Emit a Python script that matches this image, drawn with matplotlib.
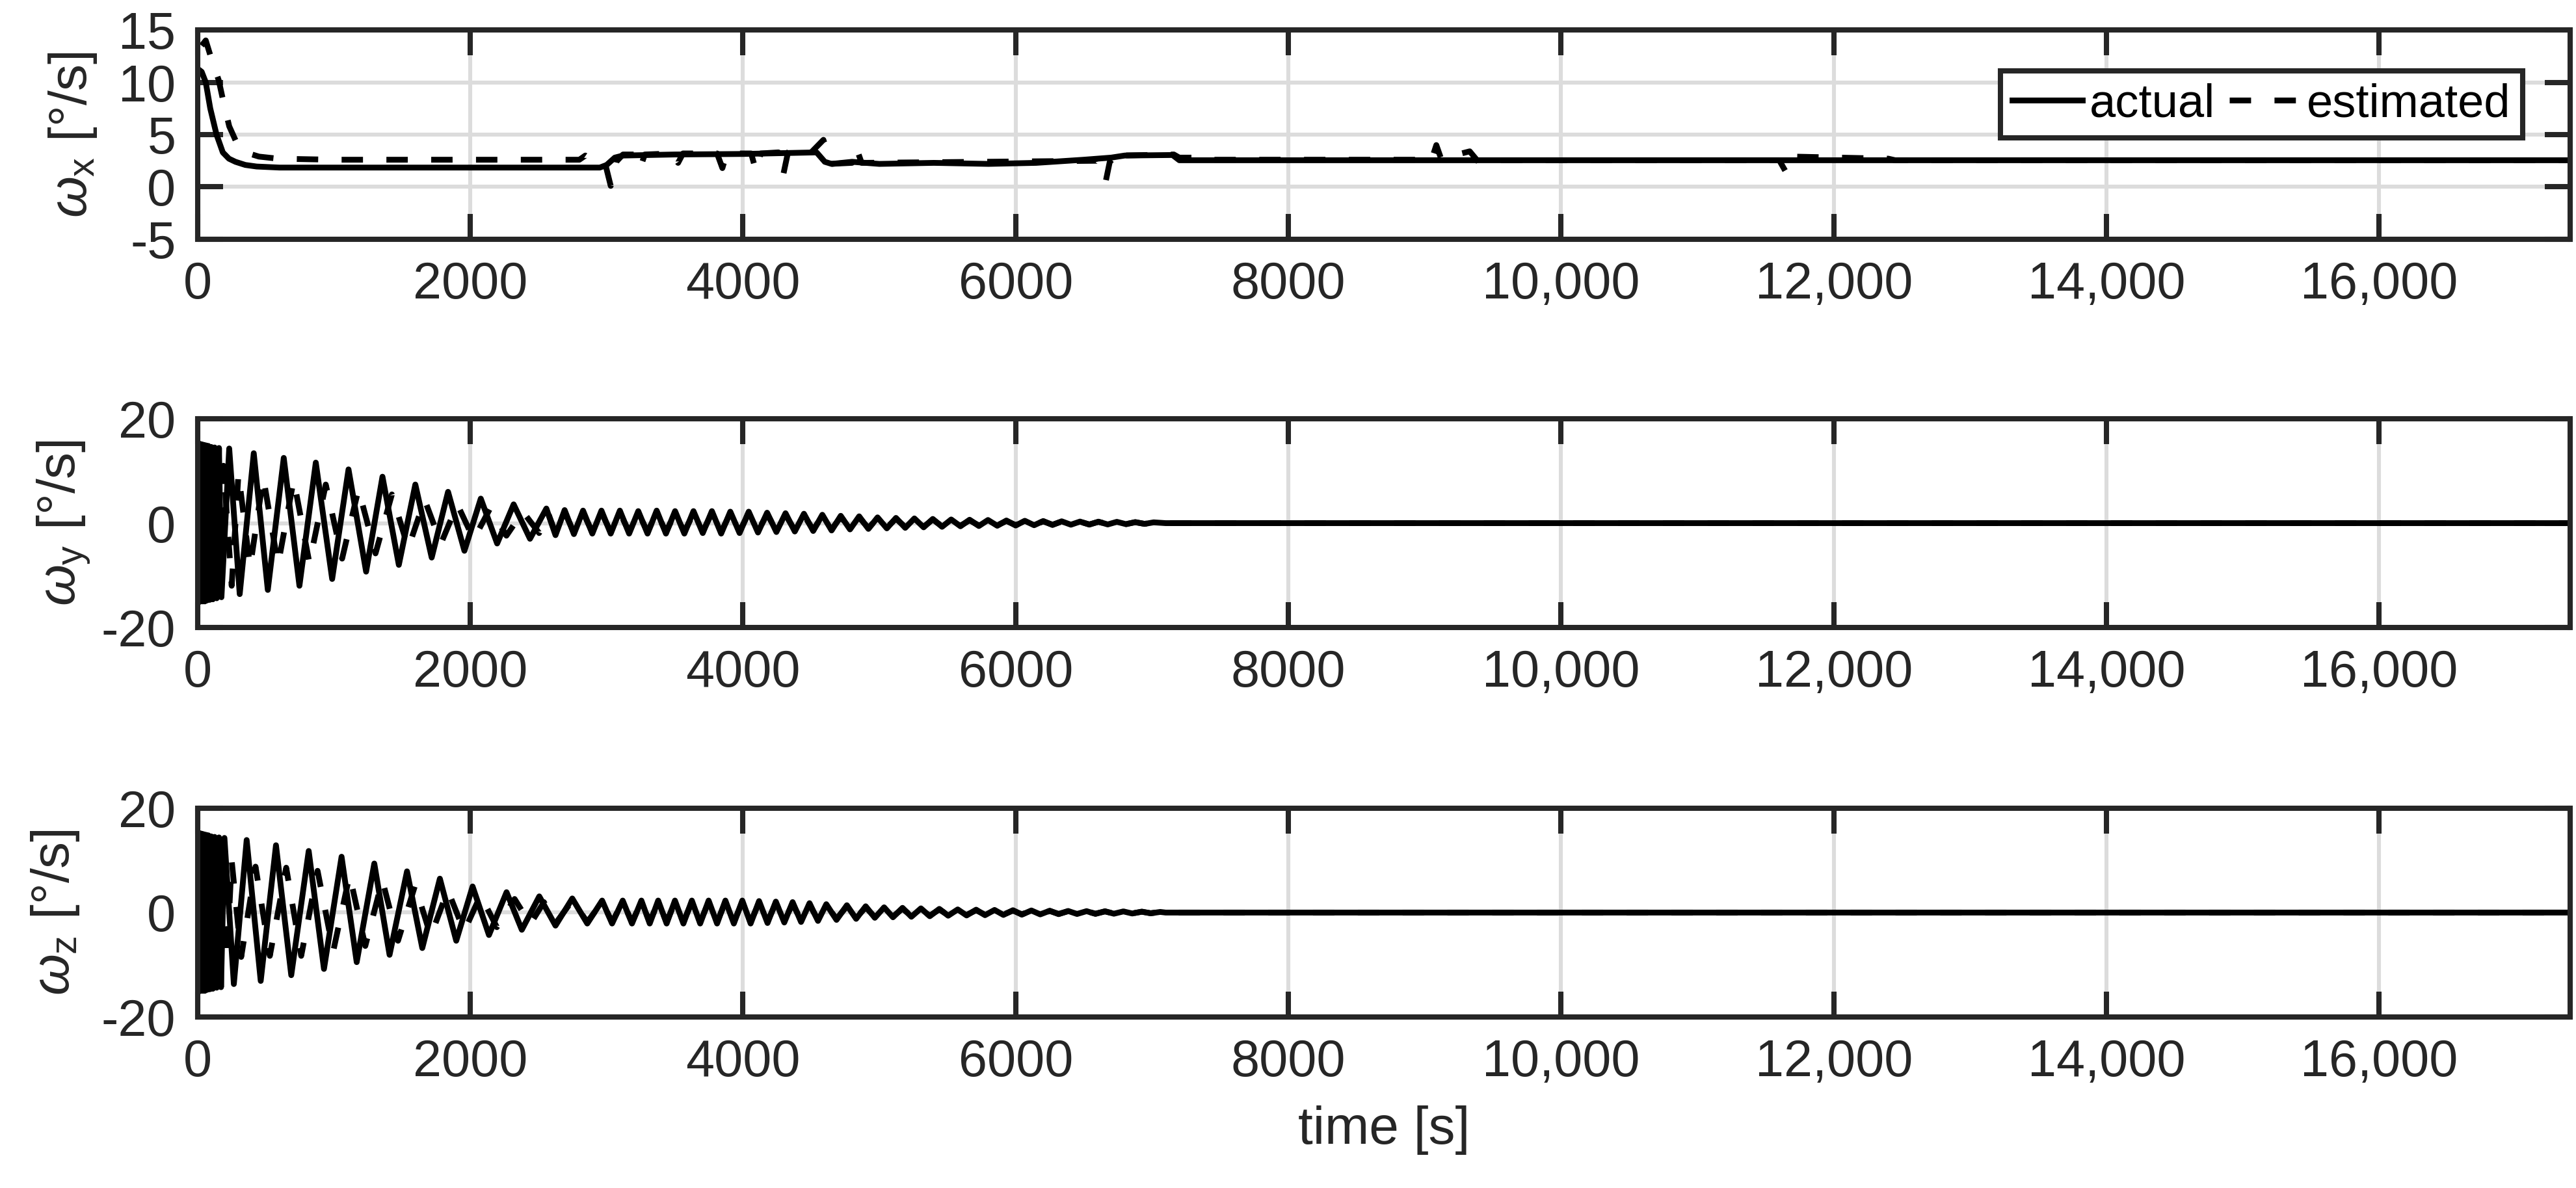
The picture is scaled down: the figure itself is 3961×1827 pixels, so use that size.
import numpy as np
import matplotlib
matplotlib.use("Agg")
import matplotlib.pyplot as plt
from matplotlib.ticker import FuncFormatter

plt.rcParams['font.family'] = ['Liberation Sans', 'DejaVu Sans']
plt.rcParams['mathtext.fontset'] = 'custom'
plt.rcParams['mathtext.rm'] = 'Liberation Sans'
plt.rcParams['mathtext.it'] = 'Liberation Sans:italic'
plt.rcParams['axes.unicode_minus'] = False

# ---- omega_x ----
t_x_act = [0, 30, 60, 93, 139, 185, 230, 278, 350, 433, 600, 2950, 3000, 3060, 3120, 3500, 4000,
           4540, 4600, 4650, 4800, 5000, 5400, 5800, 6150, 6500, 6700, 6800, 7150, 7200, 17400]
wx_act = [11.3, 11.0, 10.0, 7.5, 5.0, 3.3, 2.7, 2.4, 2.1, 1.95, 1.85, 1.85, 2.1, 2.8, 3.0, 3.1, 3.15,
          3.3, 2.4, 2.2, 2.4, 2.2, 2.3, 2.2, 2.3, 2.6, 2.8, 3.0, 3.05, 2.55, 2.55]

t_x_est = [30, 60, 100, 155, 190, 232, 294, 350, 450, 590, 1000, 2800, 2844, 2900, 2990, 3030, 3070,
           3120, 3210, 3246, 3280, 3480, 3524, 3560, 3810, 3849, 3880, 4060, 4096, 4130, 4260, 4296,
           4330, 4436, 4500, 4590, 4640, 4800, 4830, 4870, 6600, 6660, 6690, 6720, 6760, 7160, 7200,
           7320, 7360, 9050, 9085, 9120, 9330, 9400, 9450, 11600, 11650, 11700, 12400, 12450, 17400]
wx_est = [13.5, 14.0, 12.3, 10.2, 8.1, 5.8, 4.0, 3.3, 2.9, 2.7, 2.6, 2.6, 3.0, 2.5, 2.2, 0.1, 2.4,
          3.1, 3.1, 1.8, 3.1, 3.2, 2.3, 3.2, 3.2, 1.8, 3.2, 3.2, 1.5, 3.2, 3.3, 1.2,
          3.3, 3.7, 3.3, 4.5, 2.2, 2.3, 3.8, 2.3, 2.5, 0.5, 2.4, 1.9, 3.0, 3.1, 2.8,
          2.8, 2.6, 2.6, 4.0, 2.7, 3.4, 2.3, 2.55, 2.55, 1.4, 2.9, 2.7, 2.55, 2.55]

# ---- omega_y : turning points ----
t_y_act = [0, 6, 12, 18, 24, 31, 38, 45, 53, 61, 70, 79, 89, 100, 112, 125, 140, 157, 175, 232,
           309, 412, 515, 632, 747, 867, 987, 1107, 1236, 1356, 1476, 1597, 1717, 1837, 1957, 2077,
           2197, 2318, 2438, 2558]
wy_act = [0, 15.2, -15.1, 15.2, -15.0, 15.1, -15.0, 15.0, -15.0, 14.9, -14.8, 14.8, -14.7, 14.6,
          -14.6, 14.5, -14.4, 14.4, -14.2, 14.3, -13.6, 13.4, -12.8, 12.5, -12.0, 11.6, -10.7, 10.3,
          -9.3, 8.9, -8.0, 7.4, -6.6, 6.0, -5.3, 4.7, -3.9, 3.6, -3.0, 2.8]

t_y_est = [0, 8, 16, 24, 33, 42, 52, 62, 73, 85, 98, 112, 127, 143, 160, 190, 250, 300, 385, 482,
           590, 705, 820, 940, 1060, 1180, 1305, 1425, 1545, 1665, 1785, 1905, 2025, 2145, 2265,
           2385, 2505, 2570]
wy_est = [0, 13, -13, 13, -13, 13, -13, 13, -12.5, 12.5, -12.5, 12, -12, 12, -12, 11, -12, 9.5,
          -8.5, 8.8, -8.0, 8.3, -7.6, 7.4, -6.8, 6.5, -5.8, 5.5, -4.8, 4.5, -3.9, 3.6, -3.1, 2.8,
          -2.4, 2.2, -1.9, 2.0]

t_y_late = [2625, 2692, 2760, 2827, 2895, 2962, 3030, 3097, 3165, 3232,
            3300, 3367, 3435, 3502, 3570, 3637, 3705, 3772, 3840, 3907,
            3975, 4042, 4110, 4177, 4245, 4312, 4380, 4447, 4515, 4582,
            4650, 4717, 4785, 4852, 4920, 4987, 5055, 5122, 5190, 5257,
            5325, 5392, 5460, 5527, 5595, 5662, 5730, 5797, 5865, 5932,
            6000, 6067, 6135, 6202, 6270, 6337, 6405, 6472, 6540, 6607,
            6675, 6742, 6810, 6877, 6945, 7012]
wy_act_late = [-2.3, 2.5, -2.1, 2.4, -2.0, 2.4, -2.0, 2.4, -2.0, 2.3,
               -2.0, 2.4, -2.0, 2.3, -2.0, 2.3, -1.9, 2.3, -2.0, 2.2,
               -1.9, 2.2, -1.8, 2.0, -1.7, 1.9, -1.6, 1.8, -1.5, 1.6,
               -1.4, 1.4, -1.2, 1.3, -1.1, 1.1, -1.0, 1.0, -0.9, 0.9,
               -0.8, 0.8, -0.7, 0.7, -0.6, 0.65, -0.55, 0.6, -0.5, 0.5,
               -0.45, 0.45, -0.4, 0.4, -0.35, 0.35, -0.3, 0.3, -0.28, 0.28,
               -0.25, 0.25, -0.2, 0.2, -0.15, 0.15]
wy_est_late = [-1.9, 2.1, -1.8, 2.0, -1.7, 2.0, -1.7, 2.0, -1.7, 2.0,
               -1.7, 2.0, -1.7, 1.9, -1.7, 1.9, -1.6, 1.9, -1.7, 1.9,
               -1.6, 1.9, -1.5, 1.7, -1.4, 1.6, -1.4, 1.5, -1.3, 1.4,
               -1.2, 1.2, -1.0, 1.1, -0.95, 0.95, -0.85, 0.85, -0.75, 0.75,
               -0.7, 0.7, -0.6, 0.6, -0.5, 0.55, -0.45, 0.5, -0.42, 0.42,
               -0.38, 0.38, -0.34, 0.34, -0.3, 0.3, -0.26, 0.26, -0.24, 0.24,
               -0.2, 0.2, -0.17, 0.17, -0.13, 0.13]

# ---- omega_z : turning points ----
t_z_act = [0, 6, 12, 18, 24, 31, 38, 45, 53, 61, 70, 79, 89, 100, 112, 125, 140, 157, 172, 197,
           266, 360, 463, 575, 687, 815, 927, 1056, 1167, 1296, 1408, 1536, 1648, 1777, 1897, 2017,
           2137, 2266, 2378, 2506]
wz_act = [0, 15.2, -15.1, 15.2, -15.0, 15.1, -15.0, 15.0, -15.0, 14.9, -14.8, 14.8, -14.7, 14.6,
          -14.6, 14.5, -14.4, 14.4, -14.3, 14.3, -13.7, 13.9, -13.1, 12.9, -12.0, 11.8, -10.8, 10.7,
          -9.5, 9.4, -8.1, 7.9, -6.8, 6.5, -5.4, 5.0, -4.3, 3.9, -3.3, 3.1]

t_z_est = [0, 8, 16, 24, 33, 42, 52, 62, 73, 85, 98, 112, 127, 143, 160, 185, 215, 250, 320, 425,
           530, 650, 760, 880, 995, 1115, 1230, 1355, 1470, 1595, 1710, 1835, 1955, 2075, 2195,
           2325, 2440, 2540]
wz_est = [0, 13, -13, 13, -13, 13, -13, 13, -12.5, 12.5, -12.5, 12, -12, 12, -12, 11, -9, 10,
          -8.5, 8.8, -8.3, 8.6, -8.3, 8.0, -7.4, 7.2, -6.4, 6.2, -5.4, 5.2, -4.5, 4.3, -3.6, 3.3,
          -2.8, 2.6, -2.2, 2.0]

t_z_late = [2625, 2748, 2858, 2967, 3040, 3118, 3186, 3255, 3316, 3378,
            3440, 3501, 3563, 3625, 3686, 3748, 3810, 3871, 3933, 3995,
            4056, 4118, 4180, 4241, 4303, 4364, 4426, 4488, 4550, 4611,
            4686, 4762, 4830, 4900, 4967, 5035, 5100, 5170, 5235, 5305,
            5370, 5440, 5505, 5575, 5640, 5710, 5775, 5845, 5910, 5980,
            6045, 6115, 6180, 6250, 6315, 6385, 6450, 6520, 6585, 6655,
            6720, 6790, 6855, 6925, 6990, 7060]
wz_act_late = [-2.5, 2.7, -2.1, 2.3, -2.1, 2.3, -2.1, 2.3, -2.1, 2.3,
               -2.1, 2.3, -2.1, 2.3, -2.1, 2.3, -2.1, 2.3, -2.1, 2.3,
               -2.1, 2.2, -2.0, 2.1, -1.9, 2.0, -1.8, 1.8, -1.6, 1.6,
               -1.4, 1.4, -1.2, 1.2, -1.0, 1.0, -0.9, 0.9, -0.8, 0.8,
               -0.7, 0.7, -0.6, 0.6, -0.55, 0.55, -0.5, 0.5, -0.45, 0.45,
               -0.4, 0.4, -0.35, 0.35, -0.3, 0.3, -0.27, 0.27, -0.25, 0.25,
               -0.22, 0.22, -0.18, 0.18, -0.14, 0.12]
wz_est_late = [-2.1, 2.3, -1.8, 2.0, -1.8, 2.0, -1.8, 2.0, -1.8, 2.0,
               -1.8, 2.0, -1.8, 2.0, -1.8, 2.0, -1.8, 2.0, -1.8, 2.0,
               -1.8, 1.9, -1.7, 1.8, -1.6, 1.7, -1.5, 1.5, -1.4, 1.4,
               -1.2, 1.2, -1.0, 1.0, -0.85, 0.85, -0.75, 0.75, -0.65, 0.65,
               -0.6, 0.6, -0.5, 0.5, -0.45, 0.45, -0.42, 0.42, -0.38, 0.38,
               -0.34, 0.34, -0.3, 0.3, -0.26, 0.26, -0.23, 0.23, -0.21, 0.21,
               -0.18, 0.18, -0.15, 0.15, -0.12, 0.1]

# flat tail after the oscillation has died out
t_tail = [7100, 17400]
w_tail = [0.0, 0.0]

x_ticks = [0, 2000, 4000, 6000, 8000, 10000, 12000, 14000, 16000]
t_end = 17400

ink = '#262626'
lw_data = 3.2
dash = (0, (3.7, 4.05))

fig = plt.figure(figsize=(3961 / 200, 1827 / 200), dpi=200)
ax1 = fig.add_axes([0.0767, 0.7986, 0.921, 0.1762])
ax2 = fig.add_axes([0.0767, 0.4718, 0.921, 0.1757])
ax3 = fig.add_axes([0.0767, 0.1440, 0.921, 0.1757])

# top: omega_x
ax1.plot(t_x_act, wx_act, color='k', lw=lw_data, label='actual')
ax1.plot(t_x_est, wx_est, color='k', lw=lw_data, ls=dash, label='estimated')

# middle: omega_y
ax2.plot(t_y_act + t_y_late + t_tail, wy_act + wy_act_late + w_tail, color='k', lw=lw_data)
ax2.plot(t_y_est + t_y_late + t_tail, wy_est + wy_est_late + w_tail, color='k', lw=lw_data, ls=dash)

# bottom: omega_z
ax3.plot(t_z_act + t_z_late + t_tail, wz_act + wz_act_late + w_tail, color='k', lw=lw_data)
ax3.plot(t_z_est + t_z_late + t_tail, wz_est + wz_est_late + w_tail, color='k', lw=lw_data, ls=dash)

fmt = FuncFormatter(lambda v, p: f"{v:,.0f}" if v >= 10000 else f"{v:.0f}")

ax1.set_ylim(-5, 15)
ax1.set_yticks([-5, 0, 5, 10, 15])
ax2.set_ylim(-20, 20)
ax2.set_yticks([-20, 0, 20])
ax3.set_ylim(-20, 20)
ax3.set_yticks([-20, 0, 20])

labels = [r'$\omega_{\mathrm{x}}$ [°/s]', r'$\omega_{\mathrm{y}}$ [°/s]', r'$\omega_{\mathrm{z}}$ [°/s]']
label_x = [-0.0417, -0.0441, -0.049]

for ax, lab, lx in zip([ax1, ax2, ax3], labels, label_x):
    ax.set_xlim(0, t_end)
    ax.set_xticks(x_ticks)
    ax.xaxis.set_major_formatter(fmt)
    ax.tick_params(direction='in', length=14, width=2.9, top=True, right=True,
                   labelsize=28.5, pad=12, color=ink, labelcolor=ink)
    for s in ax.spines.values():
        s.set_linewidth(2.9)
        s.set_color(ink)
    ax.grid(True, color='#dcdcdc', linewidth=2.2)
    ax.set_axisbelow(True)
    ax.set_ylabel(lab, fontsize=29.5, color=ink)
    ax.yaxis.set_label_coords(lx, 0.5)

ax3.set_xlabel('time [s]', fontsize=29.5, color=ink, labelpad=10)

leg = ax1.legend(loc='upper right', bbox_to_anchor=(0.980, 0.804), ncol=2, fontsize=26,
                 frameon=True, fancybox=False, edgecolor=ink, framealpha=1,
                 handlelength=1.5, handletextpad=0.15, columnspacing=0.3,
                 borderpad=0.25, borderaxespad=0)
leg.get_frame().set_linewidth(2.9)

fig.savefig('out.png', dpi=200)
